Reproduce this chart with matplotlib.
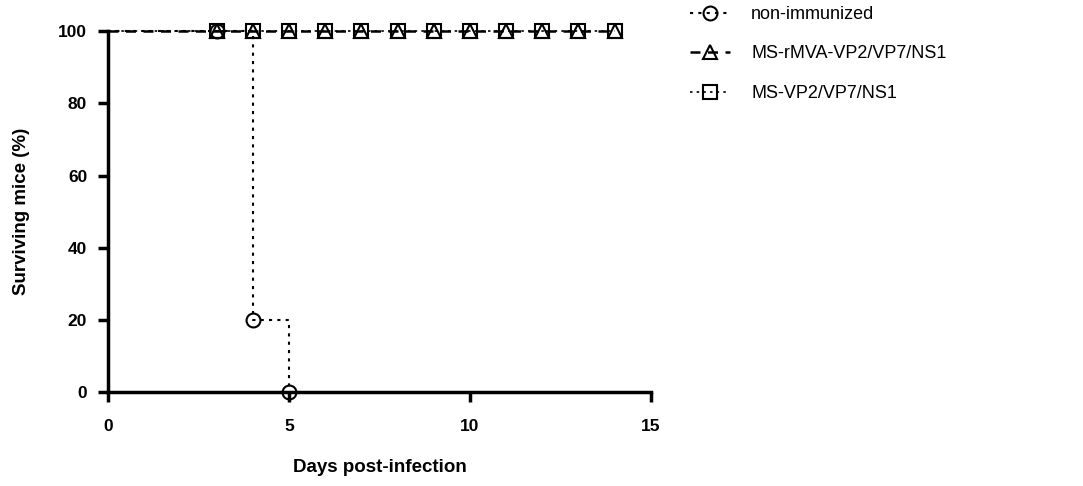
import matplotlib
matplotlib.use("Agg")
import matplotlib.pyplot as plt
from matplotlib.lines import Line2D

plt.rcParams['font.family'] = ['Liberation Sans', 'DejaVu Sans']

# Data
days_non = [0, 3, 4, 5]
surv_non = [100, 100, 20, 0]
mark_days_non = [3, 4, 5]
mark_surv_non = [100, 20, 0]

days_imm = [0, 3, 4, 5, 6, 7, 8, 9, 10, 11, 12, 13, 14]
surv_rmva = [100] * len(days_imm)
surv_vp = [100] * len(days_imm)
mark_days_imm = days_imm[1:]
mark_rmva = surv_rmva[1:]
mark_vp = surv_vp[1:]

labels = ["non-immunized", "MS-rMVA-VP2/VP7/NS1", "MS-VP2/VP7/NS1"]
x_ticks = [0, 5, 10, 15]
y_ticks = [0, 20, 40, 60, 80, 100]

fig = plt.figure(figsize=(10.83, 4.86), dpi=100)
ax = fig.add_axes([0.0997, 0.193, 0.5013, 0.743])

# non-immunized
ax.step(days_non, surv_non, where='post', color='black', lw=1.5, ls=(0, (1.5, 2.5)), zorder=3)
ax.plot(mark_days_non, mark_surv_non, ls='none', marker='o', ms=10, mfc='none', mec='black', mew=1.5, zorder=4)
# rMVA (triangle)
ax.step(days_imm, surv_rmva, where='post', color='black', lw=1.8, ls=(0, (4, 3)), zorder=3)
ax.plot(mark_days_imm, mark_rmva, ls='none', marker='^', ms=10, mfc='none', mec='black', mew=1.5, zorder=4)
# VP (square)
ax.step(days_imm, surv_vp, where='post', color='black', lw=1.2, ls=(0, (1.5, 2.5)), zorder=3)
ax.plot(mark_days_imm, mark_vp, ls='none', marker='s', ms=10, mfc='none', mec='black', mew=1.5, zorder=4)

ax.set_xlim(0, 15)
ax.set_ylim(0, 100)
ax.set_xticks(x_ticks)
ax.set_yticks(y_ticks)
for s in ['top', 'right']:
    ax.spines[s].set_visible(False)
for s in ['left', 'bottom']:
    ax.spines[s].set_linewidth(2.5)
ax.tick_params(axis='both', width=2.5, length=7, labelsize=12.5)
ax.tick_params(axis='x', pad=12)
ax.tick_params(axis='y', pad=8)
for lab in ax.get_xticklabels() + ax.get_yticklabels():
    lab.set_fontweight('bold')
ax.set_xlabel("Days post-infection", fontsize=13.5, fontweight='bold', labelpad=18)
ax.set_ylabel("Surviving mice (%)", fontsize=13.5, fontweight='bold', labelpad=20)
for sp in ax.spines.values():
    sp.set_clip_on(False)
ax.margins(0)

handles = [
    Line2D([], [], color='black', lw=1.5, ls=(0, (1.5, 2.5)), marker='o', ms=10, mfc='none', mew=1.5),
    Line2D([], [], color='black', lw=1.8, ls=(0, (4, 3)), marker='^', ms=10, mfc='none', mew=1.5),
    Line2D([], [], color='black', lw=1.2, ls=(0, (1.5, 2.5)), marker='s', ms=10, mfc='none', mew=1.5),
]
for l in ax.lines:
    l.set_clip_on(False)
fig.legend(handles, labels, loc='upper left', bbox_to_anchor=(0.637, 0.988), frameon=False,
           fontsize=13, handlelength=2.2, labelspacing=1.25, handletextpad=1.2,
           borderpad=0, borderaxespad=0)

fig.savefig("out.png", dpi=100)
